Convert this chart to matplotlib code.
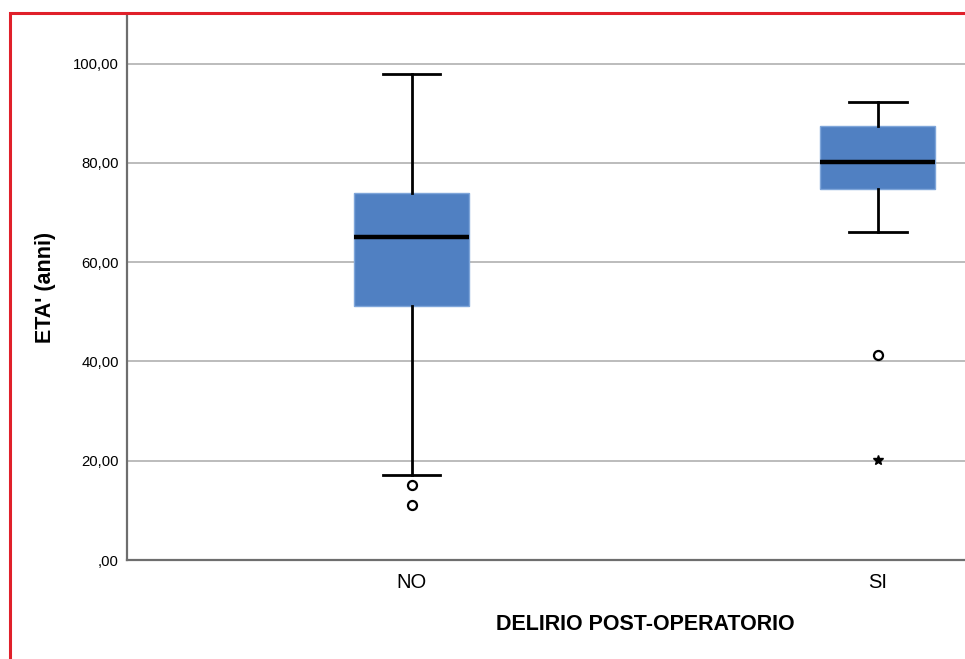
import matplotlib
matplotlib.use("Agg")
import matplotlib.pyplot as plt
from matplotlib.patches import Rectangle

categories = ["NO", "SI"]
q1 = [51.2, 74.8]
medians = [65.0, 80.2]
q3 = [74.0, 87.4]
whisker_low = [17.1, 66.0]
whisker_high = [98.0, 92.2]
outliers = [[15.1, 11.1], [41.2]]
extremes = [[], [20.1]]
yticks = [0, 20, 40, 60, 80, 100]
ytick_labels = [",00", "20,00", "40,00", "60,00", "80,00", "100,00"]

plt.rcParams['font.family'] = ['Liberation Sans', 'DejaVu Sans']

W, H = 965, 659
fig = plt.figure(figsize=(W / 100, H / 100), dpi=100)
fig.patch.set_facecolor("white")

ax = fig.add_axes([127 / W, (H - 560) / H, 1 - 127 / W, (560 - 14) / H])

stats = []
for i, c in enumerate(categories):
    stats.append(dict(label=c, med=medians[i], q1=q1[i], q3=q3[i],
                      whislo=whisker_low[i], whishi=whisker_high[i],
                      fliers=outliers[i]))

positions = list(range(len(categories)))
ax.bxp(stats, positions=positions, widths=0.247, patch_artist=True,
       boxprops=dict(facecolor="#5080C2", edgecolor="#7FA6DA", linewidth=1.0),
       medianprops=dict(color="black", linewidth=3.2),
       whiskerprops=dict(color="black", linewidth=2.0),
       capprops=dict(color="black", linewidth=2.0),
       capwidths=0.123,
       flierprops=dict(marker="o", markerfacecolor="white", markeredgecolor="black",
                       markersize=6.5, markeredgewidth=1.6),
       zorder=3)

for i, ex in enumerate(extremes):
    if ex:
        ax.plot([positions[i]] * len(ex), ex, linestyle="none", marker="*",
                color="black", markersize=7, zorder=4)

ax.set_xlim(-0.611, 1.187)
ax.set_ylim(0, 110)
ax.set_yticks(yticks)
ax.set_yticklabels(ytick_labels, fontsize=10.7)
ax.set_xticks(positions)
ax.set_xticklabels(categories, fontsize=14.5)
ax.tick_params(axis="both", length=0)
ax.tick_params(axis="y", pad=6)
ax.tick_params(axis="x", pad=9)

for y in yticks[1:]:
    ax.axhline(y, color="#B0B0B0", linewidth=1.2, zorder=1)

for s in ["top", "right"]:
    ax.spines[s].set_visible(False)
for s in ["left", "bottom"]:
    ax.spines[s].set_color("#6E6E6E")
    ax.spines[s].set_linewidth(1.6)

ax.set_ylabel("ETA' (anni)", fontsize=15.5, fontweight="bold")
ax.yaxis.set_label_coords(-(127 - 45) / (W - 127), 0.5)
ax.set_xlabel("DELIRIO POST-OPERATORIO", fontsize=15.5, fontweight="bold")
ax.xaxis.set_label_coords((645 - 127) / (W - 127), -(625 - 560) / (560 - 14))
ax.xaxis.label.set_va("center")
ax.yaxis.label.set_va("center")

fig.add_artist(Rectangle((10 / W, -0.1), 1.2, (H - 13) / H + 0.1,
                         transform=fig.transFigure, fill=False,
                         edgecolor="#E0202A", linewidth=2.2, zorder=10))

fig.savefig("out.png", dpi=100)
